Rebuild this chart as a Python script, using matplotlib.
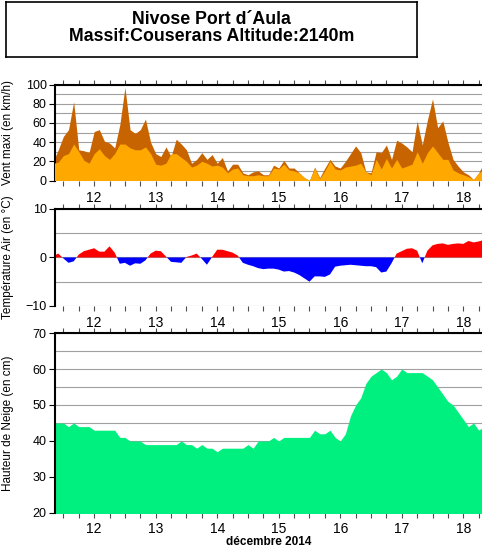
import numpy as np
import matplotlib
matplotlib.use('Agg')
import matplotlib.pyplot as plt
from matplotlib.ticker import FixedLocator, FixedFormatter

plt.rcParams['font.family'] = ['Liberation Sans', 'DejaVu Sans']

# hours since 12 Dec 2014 00:00, one value every 2 hours
hours = np.arange(-4, 165, 2)
days = [12, 13, 14, 15, 16, 17, 18]

# wind: max gust (dark) and mean (orange), km/h
wind_max = [20, 32,
            46, 53, 82, 32, 31, 29, 51, 53, 41, 39, 34, 58,
            97, 53, 49, 53, 64, 40, 28, 25, 35, 25, 43, 38,
            32, 18, 22, 29, 22, 27, 18, 24, 10, 17, 17, 8,
            6, 9, 10, 6, 6, 16, 13, 21, 13, 13, 8, 3,
            0, 14, 3, 13, 22, 15, 13, 20, 28, 36, 29, 9,
            8, 30, 29, 37, 22, 42, 39, 35, 30, 62, 37, 63,
            85, 55, 62, 40, 22, 15, 9, 6, 1, 8, 18]
wind_mean = [18, 19,
             26, 28, 38, 30, 21, 18, 28, 33, 26, 22, 28, 38,
             38, 34, 32, 32, 35, 28, 17, 16, 18, 28, 28, 24,
             20, 14, 16, 20, 18, 15, 16, 14, 8, 12, 13, 6,
             5, 5, 6, 5, 5, 13, 12, 17, 11, 10, 8, 3,
             0, 13, 2, 10, 20, 12, 11, 14, 15, 16, 18, 9,
             6, 22, 12, 23, 13, 22, 13, 15, 17, 30, 18, 29,
             36, 29, 22, 22, 11, 8, 6, 4, 1, 8, 11]

# air temperature, deg C
temp = [0.3, 0.8,
        -0.2, -1.1, -0.8, 0.6, 1.3, 1.6, 1.9, 1.2, 1.2, 2.3, 1.0, -1.3,
        -1.1, -1.7, -1.2, -1.3, -0.6, 0.8, 1.4, 1.3, 0.2, -0.9, -1.0, -1.1,
        0.1, 0.4, 0.8, -0.3, -1.5, 0.1, 1.6, 1.6, 1.3, 1.0, 0.4, -1.1,
        -1.5, -1.8, -2.2, -2.4, -2.3, -2.3, -2.5, -2.9, -2.8, -3.1, -3.6, -4.3,
        -5.0, -3.9, -3.9, -4.0, -3.5, -1.9, -1.7, -1.6, -1.5, -1.6, -1.7, -1.8,
        -1.8, -2.0, -3.1, -2.9, -1.2, 0.8, 1.3, 1.8, 1.9, 1.4, -1.2, 1.4,
        2.5, 2.8, 2.9, 2.6, 2.8, 2.9, 2.8, 3.4, 3.1, 3.3, 3.6]

# snow depth, cm
snow = [45, 45,
        45, 44, 45, 44, 44, 44, 43, 43, 43, 43, 43, 41,
        41, 40, 40, 40, 39, 39, 39, 39, 39, 39, 39, 40,
        39, 39, 38, 39, 38, 38, 37, 38, 38, 38, 38, 38,
        39, 38, 40, 40, 40, 41, 40, 41, 41, 41, 41, 41,
        41, 43, 42, 42, 43, 41, 40, 42, 47, 50, 52, 56,
        58, 59, 60, 59, 57, 58, 60, 59, 59, 59, 59, 58,
        57, 55, 53, 51, 50, 48, 46, 44, 45, 43, 44]

wind_max = np.array(wind_max)
wind_mean = np.array(wind_mean)
temp = np.array(temp)
snow = np.array(snow)

fig = plt.figure(figsize=(4.82, 5.47), dpi=100)

# title box
tax = fig.add_axes([0.0124, 0.896, 0.853, 0.1])
tax.set_xticks([])
tax.set_yticks([])
for s in tax.spines.values():
    s.set_linewidth(1.2)
tax.text(0.5, 0.52, "Nivose Port d\u00b4Aula\nMassif:Couserans Altitude:2140m",
         ha='center', va='center', fontsize=12.8, fontweight='bold',
         linespacing=1.0, transform=tax.transAxes)

left, width = 0.114, 0.886
ax1 = fig.add_axes([left, 0.670, width, 0.1755])
ax2 = fig.add_axes([left, 0.4406, width, 0.1774])
ax3 = fig.add_axes([left, 0.0622, width, 0.329])

ax1.fill_between(hours, wind_max, 0, color='#c86400', lw=0, zorder=2)
ax1.fill_between(hours, wind_mean, 0, color='#ffa800', lw=0, zorder=3)
ax1.set_ylim(0, 100)
ax1.set_yticks(range(0, 101, 20))
ax1.set_yticks(range(10, 100, 20), minor=True)
ax1.set_ylabel('Vent maxi (en km/h)', fontsize=8.5)

ax2.fill_between(hours, temp, 0, where=temp >= 0, interpolate=True,
                 color='#ff0000', lw=0, zorder=2)
ax2.fill_between(hours, temp, 0, where=temp <= 0, interpolate=True,
                 color='#0000ff', lw=0, zorder=2)
ax2.set_ylim(-10, 10)
ax2.set_yticks([-10, 0, 10])
ax2.set_yticks([-5, 5], minor=True)
ax2.set_ylabel('Température Air (en °C)', fontsize=8.5)

ax3.fill_between(hours, snow, 0, color='#00f080', lw=0, zorder=2)
ax3.set_ylim(20, 70)
ax3.set_yticks(range(20, 71, 10))
ax3.set_yticks(range(25, 70, 10), minor=True)
ax3.set_ylabel('Hauteur de Neige (en cm)', fontsize=8.5)

# labelled ticks at noon, plain ticks every other 6 hours
noons = [24 * i + 12 for i in range(len(days))]
other_ticks = [h for h in range(-6, 168, 6) if h % 24 != 12]

for ax in (ax1, ax2, ax3):
    ax.set_xlim(-3.3, 163.3)
    ax.xaxis.set_major_locator(FixedLocator(noons))
    ax.xaxis.set_major_formatter(FixedFormatter([str(d) for d in days]))
    ax.xaxis.set_minor_locator(FixedLocator(other_ticks))
    ax.tick_params(axis='x', which='both', top=True, direction='out',
                   labelsize=10, width=0.8, color='0.3', length=3.5, pad=4)
    ax.tick_params(axis='y', which='major', length=4, labelsize=9, pad=2)
    ax.tick_params(axis='y', which='minor', length=0)
    ax.grid(axis='y', which='both', color='#a0a0a0', lw=0.8, zorder=1)
    ax.set_axisbelow(True)
    ax.spines['right'].set_visible(False)
    ax.spines['bottom'].set_visible(False)
    ax.spines['left'].set_linewidth(1.5)
    ax.spines['top'].set_linewidth(1.5)
    ax.yaxis.set_label_coords(-0.095, 0.5)

ax3.tick_params(axis='x', which='both', pad=3)
ax3.set_xlabel('décembre 2014', fontsize=8.5, fontweight='bold', labelpad=0)

fig.savefig('out.png', dpi=100)
plt.close()
